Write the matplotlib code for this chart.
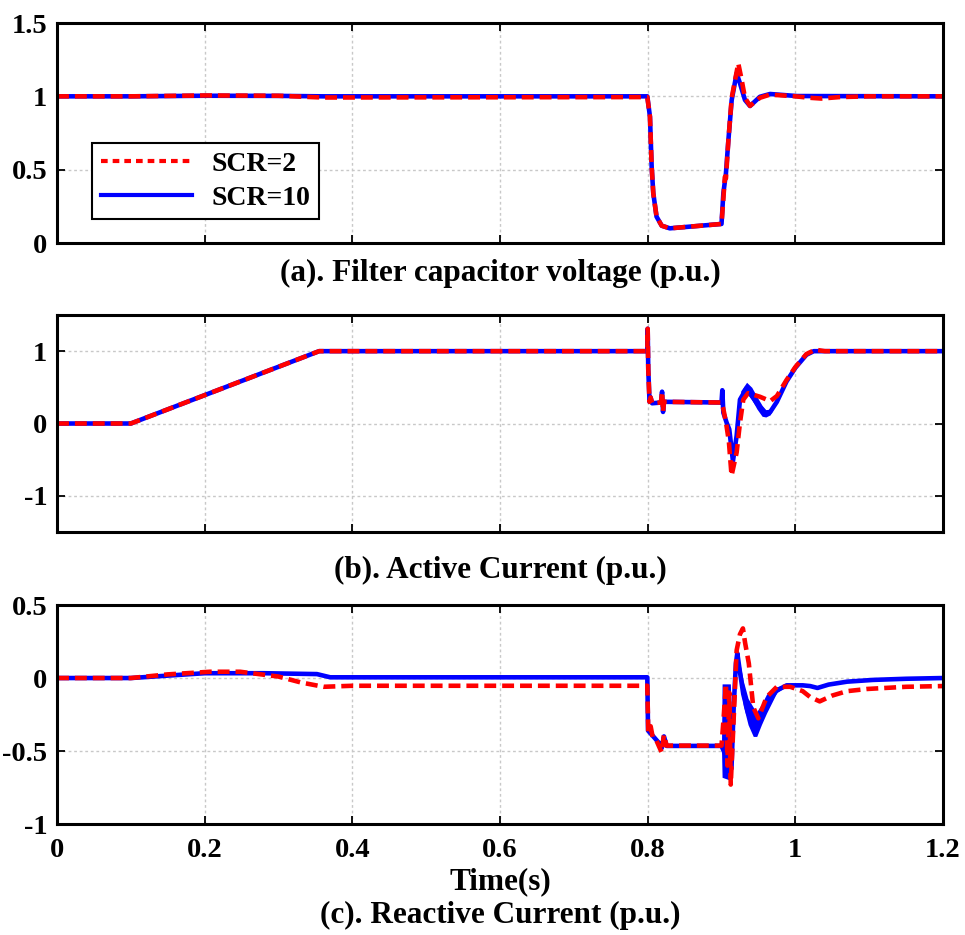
import matplotlib
matplotlib.use("Agg")
import matplotlib.pyplot as plt
from matplotlib.lines import Line2D

plt.rcParams['font.family'] = ['Liberation Serif', 'DejaVu Serif']
plt.rcParams['font.weight'] = 'bold'

# ---------------- axes ticks ----------------
x_ticks = [0, 0.2, 0.4, 0.6, 0.8, 1.0, 1.2]
x_tick_labels = ['0', '0.2', '0.4', '0.6', '0.8', '1', '1.2']

va_yticks = [0, 0.5, 1.0, 1.5]
va_ylabels = ['0', '0.5', '1', '1.5']
ib_yticks = [-1, 0, 1]
ib_ylabels = ['-1', '0', '1']
ic_yticks = [-1, -0.5, 0, 0.5]
ic_ylabels = ['-1', '-0.5', '0', '0.5']

series_labels = ['SCR=2', 'SCR=10']

# ---------------- (a) filter capacitor voltage ----------------
va_t_scr10 = [0, 0.1, 0.2, 0.3, 0.36, 0.7995, 0.8031, 0.8054, 0.8076, 0.812, 0.819, 0.83,
              0.9, 0.9025, 0.906, 0.9093, 0.9138, 0.9205, 0.925, 0.9318, 0.9386, 0.952,
              0.9657, 1.002, 1.2]
va_scr10 = [1.0, 1.0, 1.004, 1.003, 1.0, 1.0, 0.861, 0.52, 0.339, 0.18, 0.118, 0.10,
            0.13, 0.339, 0.475, 0.70, 0.975, 1.157, 1.089, 0.975, 0.934, 0.997,
            1.016, 1.002, 1.0]

va_t_scr2 = [0, 0.1, 0.2, 0.3, 0.36, 0.7995, 0.8031, 0.8054, 0.8076, 0.812, 0.819, 0.83,
             0.9, 0.9025, 0.9045, 0.906, 0.9093, 0.9138, 0.9227, 0.927, 0.9318, 0.9386,
             0.952, 0.9657, 1.0, 1.02, 1.035, 1.06, 1.1, 1.2]
va_scr2 = [1.0, 1.0, 1.006, 1.004, 0.992, 0.995, 0.861, 0.52, 0.339, 0.18, 0.118, 0.10,
           0.13, 0.30, 0.45, 0.44, 0.70, 0.99, 1.225, 1.12, 0.99, 0.935,
           0.99, 1.012, 1.0, 0.99, 0.985, 0.995, 1.0, 1.0]

# ---------------- (b) active current ----------------
ib_t_scr10 = [0, 0.1, 0.355, 0.7995, 0.8, 0.8008, 0.8025, 0.804, 0.806, 0.818, 0.8195,
              0.8208, 0.822, 0.9, 0.9011, 0.9025, 0.907, 0.9105, 0.9155, 0.9205, 0.925,
              0.934, 0.9477, 0.959, 0.966, 0.975, 0.988, 1.0, 1.015, 1.025, 1.2]
ib_scr10 = [0, 0, 1.0, 1.0, 1.31, 0.75, 0.30, 0.36, 0.28, 0.29, 0.44,
            0.16, 0.30, 0.29, 0.46, 0.15, 0.01, -0.08, -0.52, -0.17, 0.33,
            0.49, 0.28, 0.145, 0.16, 0.30, 0.58, 0.77, 0.95, 1.0, 1.0]
# ripple envelope of the SCR=10 active current after fault clearing
ib_band_t = [0.926, 0.934, 0.941, 0.948, 0.955, 0.96, 0.966, 0.972]
ib_band_hi = [0.45, 0.57, 0.50, 0.37, 0.25, 0.19, 0.20, 0.29]
ib_band_lo = [0.30, 0.42, 0.33, 0.20, 0.10, 0.09, 0.12, 0.24]

ib_t_scr2 = [0, 0.1, 0.355, 0.7995, 0.8, 0.8008, 0.8025, 0.804, 0.806, 0.818, 0.8195,
             0.8208, 0.822, 0.9, 0.9025, 0.906, 0.91, 0.9136, 0.9205, 0.925, 0.9295,
             0.936, 0.952, 0.966, 0.975, 0.988, 1.0, 1.015, 1.027, 1.04, 1.2]
ib_scr2 = [0, 0, 1.0, 1.0, 1.31, 0.75, 0.30, 0.36, 0.28, 0.29, 0.44,
           0.16, 0.30, 0.29, 0.20, 0.02, -0.25, -0.72, -0.40, 0.01, 0.33,
           0.42, 0.37, 0.31, 0.38, 0.60, 0.78, 0.96, 1.02, 1.0, 1.0]

# ---------------- (c) reactive current ----------------
ic_t_scr10 = [0, 0.1, 0.2, 0.28, 0.352, 0.37, 0.7995, 0.8005, 0.8076, 0.8157, 0.819,
              0.822, 0.8257, 0.9, 0.9135, 0.9165, 0.9195, 0.9214, 0.925, 0.9295, 0.936,
              0.943, 0.9477, 0.954, 0.961, 0.9748, 0.9883, 1.01, 1.02, 1.03, 1.045,
              1.07, 1.105, 1.15, 1.2]
ic_scr10 = [0, 0, 0.033, 0.033, 0.027, 0.005, 0.005, -0.36, -0.40, -0.447, -0.48,
            -0.40, -0.465, -0.465, -0.62, -0.2, 0.10, 0.17, 0.04, -0.11, -0.24,
            -0.31, -0.32, -0.25, -0.175, -0.085, -0.05, -0.05, -0.055, -0.068, -0.045,
            -0.025, -0.013, -0.005, 0.0]
# ripple envelopes of the SCR=10 reactive current
ic_band1_t = [0.9, 0.9008, 0.912, 0.9135]
ic_band1_hi = [-0.45, -0.04, -0.04, -0.30]
ic_band1_lo = [-0.49, -0.68, -0.70, -0.62]
ic_band2_t = [0.922, 0.925, 0.9295, 0.936, 0.943, 0.9477, 0.954, 0.961, 0.9748, 0.9883]
ic_band2_hi = [0.14, 0.10, -0.02, -0.14, -0.20, -0.23, -0.18, -0.11, -0.06, -0.045]
ic_band2_lo = [0.10, -0.03, -0.19, -0.32, -0.40, -0.40, -0.32, -0.24, -0.10, -0.055]

ic_t_scr2 = [0, 0.1, 0.15, 0.207, 0.248, 0.3, 0.33, 0.361, 0.4, 0.7995, 0.8008, 0.804,
             0.807, 0.812, 0.819, 0.822, 0.8257, 0.9, 0.9025, 0.906, 0.908, 0.9105,
             0.9125, 0.915, 0.9205, 0.925, 0.929, 0.932, 0.937, 0.943, 0.9499, 0.9612,
             0.975, 0.993, 1.01, 1.02, 1.033, 1.05, 1.07, 1.097, 1.15, 1.2]
ic_scr2 = [0, 0, 0.025, 0.043, 0.043, 0.01, -0.03, -0.06, -0.053, -0.053, -0.37, -0.33,
           -0.41, -0.43, -0.51, -0.39, -0.463, -0.463, -0.30, -0.04, -0.60, -0.10,
           -0.73, -0.45, 0.19, 0.30, 0.34, 0.24, 0.10, -0.20, -0.276, -0.13,
           -0.06, -0.06, -0.09, -0.13, -0.16, -0.12, -0.09, -0.075, -0.06, -0.055]

RED = '#ff0000'
BLUE = '#0000ff'
LW_BLUE = 3.3
LW_RED = 3.3
RED_DASH = (0, (2.6, 1.3))

TICK_FS = 20.5
TITLE_FS = 22.5
LEGEND_FS = 20

fig = plt.figure(figsize=(9.65, 9.35), dpi=100)
left, width = 0.0591, 0.9181
ax_a = fig.add_axes([left, 0.7401, width, 0.2353])
ax_b = fig.add_axes([left, 0.4310, width, 0.2321])
ax_c = fig.add_axes([left, 0.1187, width, 0.2342])


def style(ax, yticks, ylabels, ylim, show_x):
    ax.set_xlim(0, 1.2)
    ax.set_ylim(*ylim)
    ax.set_xticks(x_ticks)
    ax.set_yticks(yticks)
    ax.set_yticklabels(ylabels, fontsize=TICK_FS, fontweight='bold')
    if show_x:
        ax.set_xticklabels(x_tick_labels, fontsize=TICK_FS, fontweight='bold')
    else:
        ax.set_xticklabels([])
    ax.tick_params(direction='in', length=6, width=1.3, top=True, right=True)
    ax.tick_params(axis='y', pad=7)
    ax.tick_params(axis='x', pad=10)
    ax.grid(True, color='#c8c8c8', linestyle=(0, (2, 2)), linewidth=1.0)
    ax.set_axisbelow(True)
    for s in ax.spines.values():
        s.set_linewidth(2.2)


# (a)
ax_a.plot(va_t_scr10, va_scr10, color=BLUE, lw=LW_BLUE, solid_joinstyle='round')
ax_a.plot(va_t_scr2, va_scr2, color=RED, lw=LW_RED, linestyle=RED_DASH)
style(ax_a, va_yticks, va_ylabels, (0, 1.5), False)
handles = [Line2D([], [], color=RED, lw=3.0, linestyle=(0, (1.6, 1.2))),
           Line2D([], [], color=BLUE, lw=3.0)]
leg = ax_a.legend(handles, series_labels, loc='lower left', bbox_to_anchor=(0.040, 0.109),
                  borderaxespad=0, handlelength=3.3, handletextpad=0.7,
                  labelspacing=0.3, borderpad=0.3, fancybox=False, framealpha=1,
                  edgecolor='black', prop={'weight': 'bold', 'size': LEGEND_FS})
leg.get_frame().set_linewidth(1.5)

# (b)
ax_b.fill_between(ib_band_t, ib_band_lo, ib_band_hi, color=BLUE, lw=0)
ax_b.plot(ib_t_scr10, ib_scr10, color=BLUE, lw=LW_BLUE, solid_joinstyle='round')
ax_b.plot(ib_t_scr2, ib_scr2, color=RED, lw=LW_RED, linestyle=RED_DASH)
style(ax_b, ib_yticks, ib_ylabels, (-1.5, 1.5), False)

# (c)
ax_c.fill_between(ic_band1_t, ic_band1_lo, ic_band1_hi, color=BLUE, lw=0)
ax_c.fill_between(ic_band2_t, ic_band2_lo, ic_band2_hi, color=BLUE, lw=0)
ax_c.plot(ic_t_scr10, ic_scr10, color=BLUE, lw=LW_BLUE, solid_joinstyle='round')
ax_c.plot(ic_t_scr2, ic_scr2, color=RED, lw=LW_RED, linestyle=RED_DASH)
style(ax_c, ic_yticks, ic_ylabels, (-1, 0.5), True)

cx = left + width / 2
fig.text(cx, 1 - 882 / 935, 'Time(s)', ha='center', va='center',
         fontsize=TITLE_FS, fontweight='bold')
fig.text(cx, 1 - 273 / 935, '(a). Filter capacitor voltage (p.u.)', ha='center', va='center',
         fontsize=TITLE_FS, fontweight='bold')
fig.text(cx, 1 - 570 / 935, '(b). Active Current (p.u.)', ha='center', va='center',
         fontsize=TITLE_FS, fontweight='bold')
fig.text(cx, 1 - 915 / 935, '(c). Reactive Current (p.u.)', ha='center', va='center',
         fontsize=TITLE_FS, fontweight='bold')

fig.savefig('out.png', dpi=100)
